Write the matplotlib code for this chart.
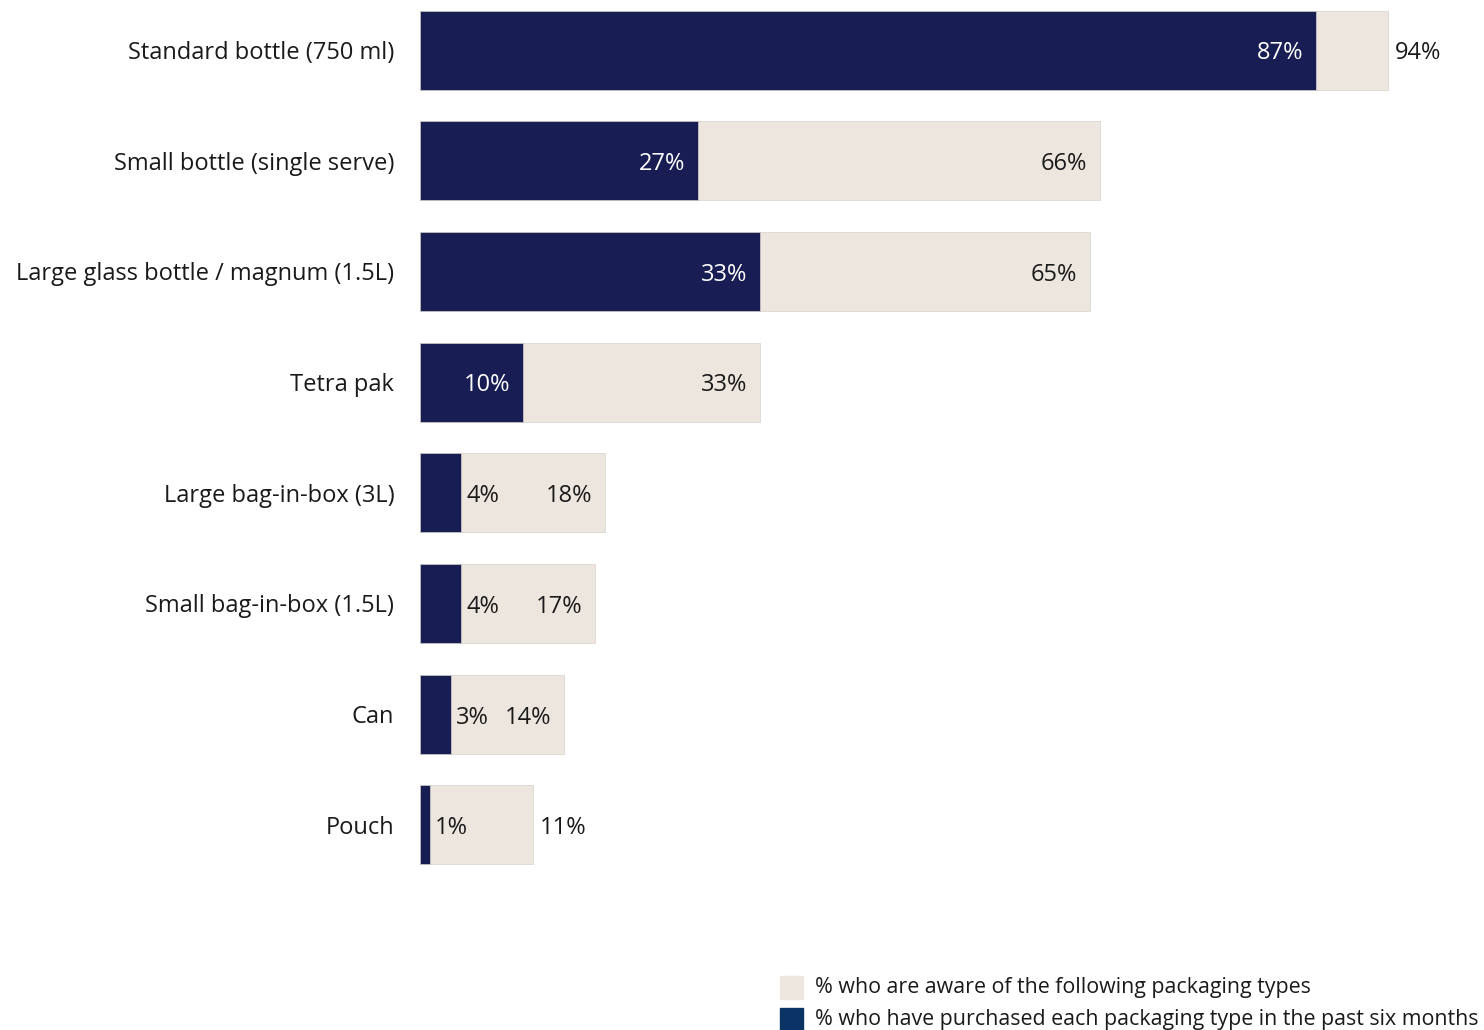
import matplotlib.pyplot as plt
from matplotlib.patches import Rectangle

plt.rcParams['font.family'] = ['Open Sans', 'DejaVu Sans']

categories = ['Standard bottle (750 ml)', 'Small bottle (single serve)',
              'Large glass bottle / magnum (1.5L)', 'Tetra pak',
              'Large bag-in-box (3L)', 'Small bag-in-box (1.5L)', 'Can', 'Pouch']
aware = [94, 66, 65, 33, 18, 17, 14, 11]
purchased = [87, 27, 33, 10, 4, 4, 3, 1]
# aware labels that sit to the right of the bar instead of inside it
aware_label_outside = ['Standard bottle (750 ml)', 'Pouch']

dark = '#181e54'
light = '#ece6df'
text_col = '#1a1a1a'

W, H = 1484, 1030
fig = plt.figure(figsize=(W / 100, H / 100), dpi=100)
px = 10.3  # pixels per percentage point
ax = fig.add_axes([420 / W, 150 / H, 100 * px / W, 880 / H])

y = list(range(len(categories)))
bh = 0.714
ax.barh(y, aware, height=bh, color=light, edgecolor='#d6d1cb', linewidth=0.5)
ax.barh(y, purchased, height=bh, color=dark, edgecolor='#d6d1cb', linewidth=0.5)

ax.set_xlim(0, 100)
ax.set_ylim(7.498, -0.452)
ax.set_yticks(y)
ax.set_yticklabels(categories, fontsize=17, color=text_col)
ax.tick_params(axis='y', length=0, pad=18.5)
ax.set_xticks([])
for s in ax.spines.values():
    s.set_visible(False)

gap_in = 13 / px
gap_out = 7 / px
dy = 0.03
for i, cat in enumerate(categories):
    p, a = purchased[i], aware[i]
    if p >= 10:
        ax.text(p - gap_in, i + dy, f'{p}%', ha='right', va='center',
                fontsize=17, color='white')
    else:
        ax.text(p + 5 / px, i + dy, f'{p}%', ha='left', va='center',
                fontsize=17, color=text_col)
    if cat in aware_label_outside:
        ax.text(a + gap_out, i + dy, f'{a}%', ha='left', va='center',
                fontsize=17, color=text_col)
    else:
        ax.text(a - gap_in, i + dy, f'{a}%', ha='right', va='center',
                fontsize=17, color=text_col)

# legend drawn by hand at the bottom right
legend_items = [(light, '% who are aware of the following packaging types'),
                ('#0b3366', '% who have purchased each packaging type in the past six months')]
for k, (col, lab) in enumerate(legend_items):
    top = 976 + k * 32
    fig.patches.append(Rectangle((780 / W, 1 - (top + 23) / H), 23 / W, 23 / H,
                                 transform=fig.transFigure, color=col))
    fig.text(815 / W, 1 - (top + 12) / H, lab, ha='left', va='center',
             fontsize=15.4, color=text_col)

fig.savefig('out.png', dpi=100)
